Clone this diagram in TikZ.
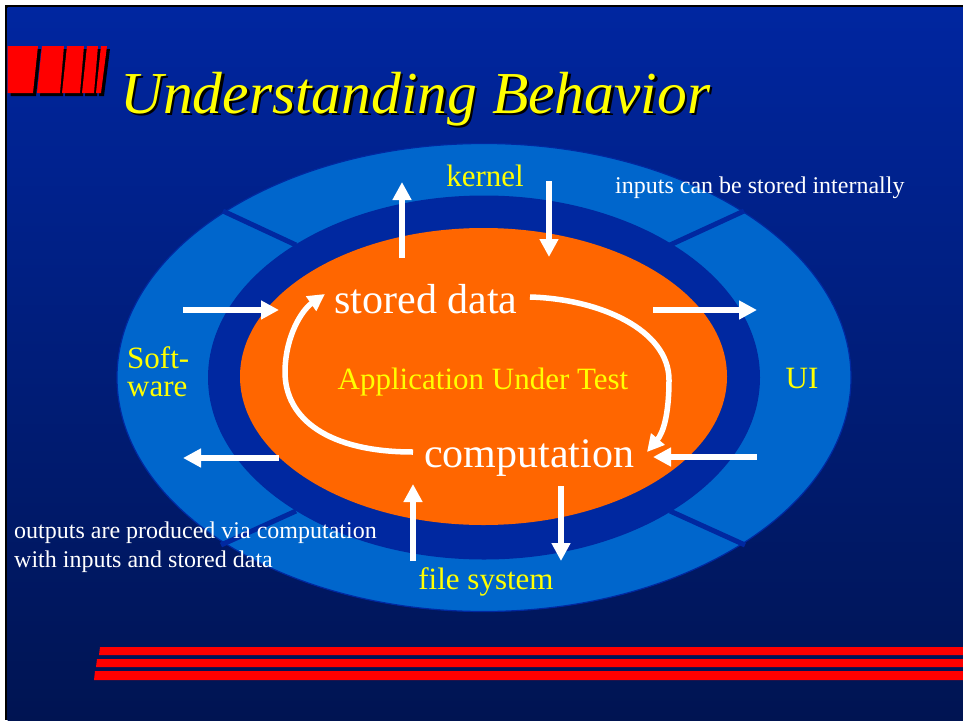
\documentclass[tikz,border=0pt]{standalone}
\usepackage{fontspec}
\setmainfont{Liberation Serif}
\usetikzlibrary{arrows.meta}
\definecolor{bgtop}{RGB}{0,38,160}
\definecolor{bgbot}{RGB}{0,20,82}
\definecolor{ringlight}{RGB}{0,102,204}
\definecolor{ringdark}{RGB}{0,40,160}
\definecolor{coreorange}{RGB}{255,102,0}
\definecolor{ttlyellow}{RGB}{255,255,0}
\definecolor{barred}{RGB}{255,0,0}
\tikzset{
  flow/.style={draw=white, line width=6pt, -{Triangle[length=18pt,width=18pt]}},
  cycle/.style={draw=white, line width=5.5pt, line cap=butt, -{Triangle[length=17pt,width=17pt]}},
  sep/.style={draw=ringdark, line width=5pt},
  lbl/.style={inner sep=0pt, anchor=base},
  ylbl/.style={lbl, text=ttlyellow, font=\fontsize{31}{31}\selectfont},
  wbig/.style={lbl, text=white, font=\fontsize{42}{42}\selectfont},
  wsmall/.style={inner sep=0pt, text=white, font=\fontsize{24}{29}\selectfont, align=left},
}
\begin{document}
\begin{tikzpicture}[x=1pt,y=-1pt]
\useasboundingbox (0,0) rectangle (963,720);
% frame and background
\fill[white] (0,0) rectangle (963,720);
\fill[black] (5,5) rectangle (963,720);
\shade[top color=bgtop, bottom color=bgbot] (7.5,7.5) rectangle (963,720);
% logo shadow
\begin{scope}[shift={(3,3)}]
\fill[black] (7.5,46) -- (38,46) -- (33,93) -- (7.5,93) -- cycle;
\fill[black] (42,46) -- (64,46) -- (60,93) -- (37,93) -- cycle;
\fill[black] (67,46) -- (84,46) -- (80,93) -- (62,93) -- cycle;
\fill[black] (87,46) -- (98,46) -- (94,93) -- (82,93) -- cycle;
\fill[black] (101,46) -- (107,46) -- (101,93) -- (96,93) -- cycle;
\end{scope}
% logo bars
\fill[barred] (7.5,46) -- (38,46) -- (33,93) -- (7.5,93) -- cycle;
\fill[barred] (42,46) -- (64,46) -- (60,93) -- (37,93) -- cycle;
\fill[barred] (67,46) -- (84,46) -- (80,93) -- (62,93) -- cycle;
\fill[barred] (87,46) -- (98,46) -- (94,93) -- (82,93) -- cycle;
\fill[barred] (101,46) -- (107,46) -- (101,93) -- (96,93) -- cycle;
% title
\node[lbl, anchor=base west, text=black, font=\fontsize{59.5}{59.5}\selectfont\itshape] (titleshadow) at (122.5,115.5) {Understanding Behavior};
\node[lbl, anchor=base west, text=ttlyellow, font=\fontsize{59.5}{59.5}\selectfont\itshape] (title) at (120,113) {Understanding Behavior};
% bottom stripes
\fill[barred] (100,647) -- (963,647) -- (963,655) -- (99,655) -- cycle;
\fill[barred] (97,659) -- (963,659) -- (963,667) -- (96,667) -- cycle;
\fill[barred] (95,671) -- (963,671) -- (963,680) -- (94,680) -- cycle;
% ellipses
\fill[ringlight, draw=ringdark, line width=1.2pt] (484,377.5) ellipse [x radius=367pt, y radius=234pt];
\fill[ringdark] (484,377.5) ellipse [x radius=276pt, y radius=182pt];
\draw[sep] (296,245) -- (223,211);
\draw[sep] (670,245) -- (744,211);
\draw[sep] (296,511) -- (221,545);
\draw[sep] (670,511) -- (745,545);
\fill[coreorange] (483.5,376.5) ellipse [x radius=243.5pt, y radius=148.5pt];
% labels
\node[ylbl] (kernel) at (485,186) {kernel};
\node[lbl, anchor=base west, text=white, font=\fontsize{24}{24}\selectfont] (inputs) at (615,193) {inputs can be stored internally};
\node[wbig] (sd) at (426,313) {stored data};
\node[ylbl] (aut) at (483,389) {Application Under Test};
\node[wbig] (comp) at (529,467) {computation};
\node[ylbl] (fs) at (486,589) {file system};
\node[ylbl] (ui) at (802,388) {UI};
\node[inner sep=0pt, anchor=base west, text=ttlyellow, font=\fontsize{31}{28}\selectfont, align=left] (sw) at (127,396) {Soft-\\ware};
\node[wsmall, anchor=base west] (outputs) at (14,567) {outputs are produced via computation\\with inputs and stored data};
% straight arrow end points
\coordinate (kUpS) at (402,258);
\coordinate (kUpE) at (402,182);
\coordinate (kDnS) at (549,181);
\coordinate (kDnE) at (549,257);
\coordinate (swInS) at (183,310);
\coordinate (swInE) at (279,310);
\coordinate (uiOutS) at (653,310);
\coordinate (uiOutE) at (757,310);
\coordinate (swOutS) at (279,458);
\coordinate (swOutE) at (183,458);
\coordinate (uiInS) at (757,457);
\coordinate (uiInE) at (653,457);
\coordinate (fsUpS) at (413,561);
\coordinate (fsUpE) at (413,484);
\coordinate (fsDnS) at (561,486);
\coordinate (fsDnE) at (561,561);
\draw[flow] (kUpS) -- (kUpE);
\draw[flow] (kDnS) -- (kDnE);
\draw[flow] (swInS) -- (swInE);
\draw[flow] (uiOutS) -- (uiOutE);
\draw[flow] (swOutS) -- (swOutE);
\draw[flow] (uiInS) -- (uiInE);
\draw[flow] (fsUpS) -- (fsUpE);
\draw[flow] (fsDnS) -- (fsDnE);
% cycle arrows
\coordinate (cwS) at (530,297);
\coordinate (cwM) at (669,380);
\coordinate (cwE) at (647,452);
\coordinate (ccS) at (413,452);
\coordinate (ccM) at (285,370);
\coordinate (ccE) at (325,294);
\draw[cycle] (cwS) .. controls (600,299) and (669,330) .. (cwM) .. controls (669,415) and (663,433) .. (cwE);
\draw[cycle] (ccS) .. controls (330,452) and (284,420) .. (ccM) .. controls (286,335) and (302,310) .. (ccE);
\end{tikzpicture}
\end{document}
